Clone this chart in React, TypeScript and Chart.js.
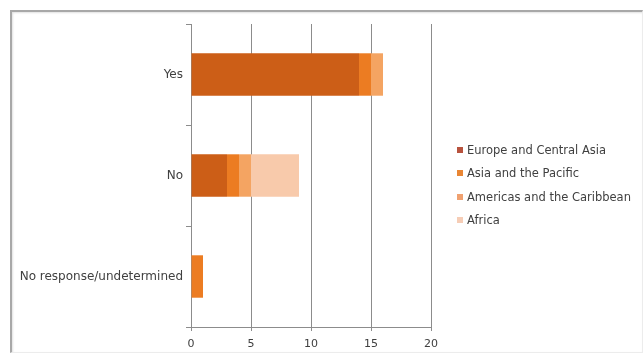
import React, { useEffect, useRef } from "react";
import { Chart, registerables } from "chart.js";

Chart.register(...registerables);

const categories = ["Yes", "No", "No response/undetermined"];
const seriesNames = ["Europe and Central Asia", "Asia and the Pacific", "Americas and the Caribbean", "Africa"];
const europe = [14, 3, 0];
const asia = [1, 1, 1];
const americas = [1, 1, 0];
const africa = [0, 4, 0];
const xTicks = [0, 5, 10, 15, 20];

const colors = ["#CC5E17", "#EC7C22", "#F4A462", "#F8CAAB"];
const legendColors = ["#B8533E", "#E98634", "#F0A170", "#F6CDB6"];

export default function App() {
  const ref = useRef<HTMLCanvasElement>(null);
  useEffect(() => {
    const values = [europe, asia, americas, africa];
    const chart = new Chart(ref.current!, {
      type: "bar",
      data: {
        labels: categories,
        datasets: seriesNames.map((n, i) => ({
          label: n,
          data: values[i],
          backgroundColor: colors[i],
          borderWidth: 0,
          barPercentage: 0.42,
          categoryPercentage: 1,
        })),
      },
      options: {
        indexAxis: "y",
        animation: false,
        responsive: false,
        maintainAspectRatio: false,
        layout: { padding: { top: 24, left: 0, right: 212, bottom: 0 } },
        plugins: {
          tooltip: { enabled: false },
          legend: { display: false },
        },
        scales: {
          x: {
            stacked: true,
            min: 0,
            max: 20,
            afterBuildTicks: (s: any) => {
              s.ticks = xTicks.map((v) => ({ value: v }));
            },
            afterFit: (s: any) => {
              s.height = 30;
            },
            grid: { color: "#8c8c8c", lineWidth: 1, tickLength: 4, drawTicks: true },
            border: { display: true, color: "#8c8c8c" },
            ticks: { color: "#404040", padding: 7, font: { family: "DejaVu Sans", size: 11 } },
          },
          y: {
            stacked: true,
            afterFit: (s: any) => {
              s.width = 191;
            },
            grid: { drawOnChartArea: false, drawTicks: true, tickLength: 5, offset: true, color: "#8c8c8c" },
            border: { display: true, color: "#8c8c8c" },
            ticks: { color: "#404040", padding: 3, font: { family: "DejaVu Sans", size: 12 } },
          },
        },
      },
    });
    return () => chart.destroy();
  }, []);
  return (
    <div style={{ position: "fixed", left: 0, top: 0, width: 643, height: 357, background: "#fff", overflow: "hidden" }}>
      <div
        style={{
          position: "absolute",
          left: 10,
          top: 10,
          width: 630,
          height: 340,
          borderTop: "2px solid #a8a8a8",
          borderLeft: "2px solid #a8a8a8",
          borderRight: "1px solid #ececec",
          borderBottom: "1px solid #ececec",
          boxShadow: "inset 1px 1px 2px rgba(0,0,0,0.12)",
        }}
      />
      <canvas ref={ref} width={643} height={357} style={{ position: "absolute", left: 0, top: 0, width: 643, height: 357 }} />
      {seriesNames.map((n, i) => (
        <div
          key={n}
          style={{
            position: "absolute",
            left: 457,
            top: 142 + Math.round(i * 23.3),
            height: 16,
            display: "flex",
            alignItems: "center",
            fontFamily: "DejaVu Sans",
            fontSize: 11.5,
            color: "#404040",
            whiteSpace: "nowrap",
          }}
        >
          <span style={{ display: "inline-block", width: 6, height: 6, background: legendColors[i], marginRight: 4 }} />
          {n}
        </div>
      ))}
    </div>
  );
}
